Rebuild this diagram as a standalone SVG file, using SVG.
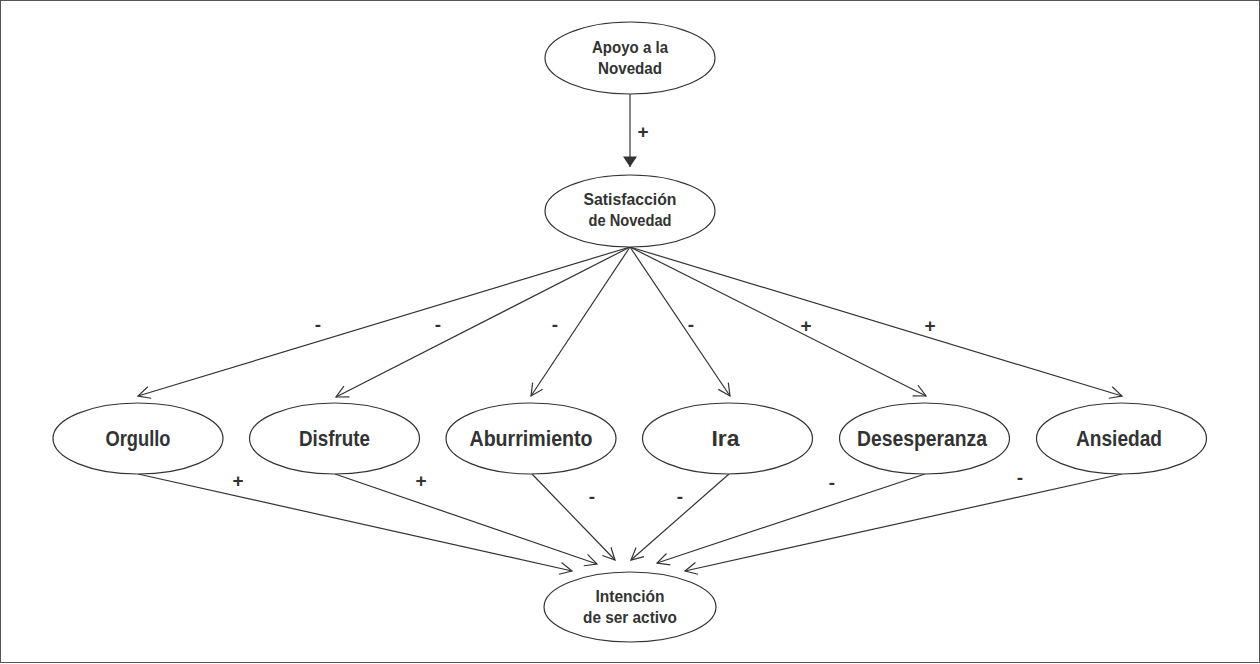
<svg xmlns="http://www.w3.org/2000/svg" width="1260" height="664" viewBox="0 0 1260 664">
<defs>
<style>
.node ellipse{fill:#fff;stroke:#333;stroke-width:1.2}
.node text,.lbl{font-family:"Liberation Sans",Arial,sans-serif;font-weight:bold;fill:#333;text-anchor:middle}
.t1{font-size:17px}
.t2{font-size:22px}
.lbl{font-size:19px}
.conn line{stroke:#333;stroke-width:1.2;fill:none}
</style>
<marker id="open" markerUnits="userSpaceOnUse" markerWidth="16" markerHeight="16" refX="13" refY="7" orient="auto" viewBox="0 0 16 14">
<path d="M1,1 L13,7 L1,13" fill="none" stroke="#333" stroke-width="1.2"/>
</marker>
<marker id="solid" markerUnits="userSpaceOnUse" markerWidth="18" markerHeight="14" refX="12" refY="8" orient="auto" viewBox="0 0 14 16">
<path d="M0,0 L12,8 L0,16 Z" fill="#333"/>
</marker>
</defs>
<rect x="0.5" y="0.5" width="1259" height="662" fill="#fff" stroke="#555" stroke-width="1"/>
<g class="conn">
<line x1="630" y1="94" x2="630" y2="167" marker-end="url(#solid)"/>
<line x1="630" y1="247" x2="138" y2="396" marker-end="url(#open)"/>
<line x1="630" y1="247" x2="336" y2="397" marker-end="url(#open)"/>
<line x1="630" y1="247" x2="531" y2="396" marker-end="url(#open)"/>
<line x1="630" y1="247" x2="730" y2="396" marker-end="url(#open)"/>
<line x1="630" y1="247" x2="926" y2="396" marker-end="url(#open)"/>
<line x1="630" y1="247" x2="1122" y2="396" marker-end="url(#open)"/>
<line x1="138" y1="474" x2="572" y2="571" marker-end="url(#open)"/>
<line x1="335" y1="474" x2="597" y2="564" marker-end="url(#open)"/>
<line x1="532" y1="474" x2="615" y2="560" marker-end="url(#open)"/>
<line x1="729" y1="474" x2="631" y2="560" marker-end="url(#open)"/>
<line x1="925" y1="474" x2="657" y2="563" marker-end="url(#open)"/>
<line x1="1122" y1="474" x2="685" y2="571" marker-end="url(#open)"/>
</g>
<g id="labels">
<text class="lbl" x="643" y="138">+</text>
<text class="lbl" x="318" y="331">-</text>
<text class="lbl" x="438" y="331">-</text>
<text class="lbl" x="555" y="331">-</text>
<text class="lbl" x="691" y="331">-</text>
<text class="lbl" x="806" y="332">+</text>
<text class="lbl" x="930" y="332">+</text>
<text class="lbl" x="238" y="487">+</text>
<text class="lbl" x="421" y="487">+</text>
<text class="lbl" x="592" y="503">-</text>
<text class="lbl" x="680" y="503">-</text>
<text class="lbl" x="832" y="489">-</text>
<text class="lbl" x="1020" y="484">-</text>
</g>
<g id="apoyo" class="node">
<ellipse cx="630" cy="58" rx="85" ry="36"/>
<text class="t1" x="630" y="53" textLength="76" lengthAdjust="spacingAndGlyphs">Apoyo a la</text>
<text class="t1" x="630" y="74" textLength="64" lengthAdjust="spacingAndGlyphs">Novedad</text>
</g>
<g id="satisfaccion" class="node">
<ellipse cx="630" cy="211" rx="85" ry="36"/>
<text class="t1" x="630" y="205" textLength="93" lengthAdjust="spacingAndGlyphs">Satisfacción</text>
<text class="t1" x="630" y="226" textLength="83" lengthAdjust="spacingAndGlyphs">de Novedad</text>
</g>
<g id="orgullo" class="node">
<ellipse cx="138" cy="438.5" rx="85" ry="35.5"/>
<text class="t2" x="138" y="446" textLength="65" lengthAdjust="spacingAndGlyphs">Orgullo</text>
</g>
<g id="disfrute" class="node">
<ellipse cx="334.5" cy="438.5" rx="85" ry="35.5"/>
<text class="t2" x="334.5" y="446" textLength="71" lengthAdjust="spacingAndGlyphs">Disfrute</text>
</g>
<g id="aburrimiento" class="node">
<ellipse cx="531" cy="438.5" rx="85" ry="35.5"/>
<text class="t2" x="531" y="446" textLength="123" lengthAdjust="spacingAndGlyphs">Aburrimiento</text>
</g>
<g id="ira" class="node">
<ellipse cx="727.5" cy="438.5" rx="85" ry="35.5"/>
<text class="t2" x="725.5" y="446" textLength="28" lengthAdjust="spacingAndGlyphs">Ira</text>
</g>
<g id="desesperanza" class="node">
<ellipse cx="924.5" cy="438.5" rx="85" ry="35.5"/>
<text class="t2" x="922" y="446" textLength="130" lengthAdjust="spacingAndGlyphs">Desesperanza</text>
</g>
<g id="ansiedad" class="node">
<ellipse cx="1121.5" cy="438.5" rx="85" ry="35.5"/>
<text class="t2" x="1119" y="446" textLength="86" lengthAdjust="spacingAndGlyphs">Ansiedad</text>
</g>
<g id="intencion" class="node">
<ellipse cx="630" cy="607" rx="86" ry="35"/>
<text class="t1" x="630" y="602" textLength="69" lengthAdjust="spacingAndGlyphs">Intención</text>
<text class="t1" x="630" y="623" textLength="94" lengthAdjust="spacingAndGlyphs">de ser activo</text>
</g>
</svg>
